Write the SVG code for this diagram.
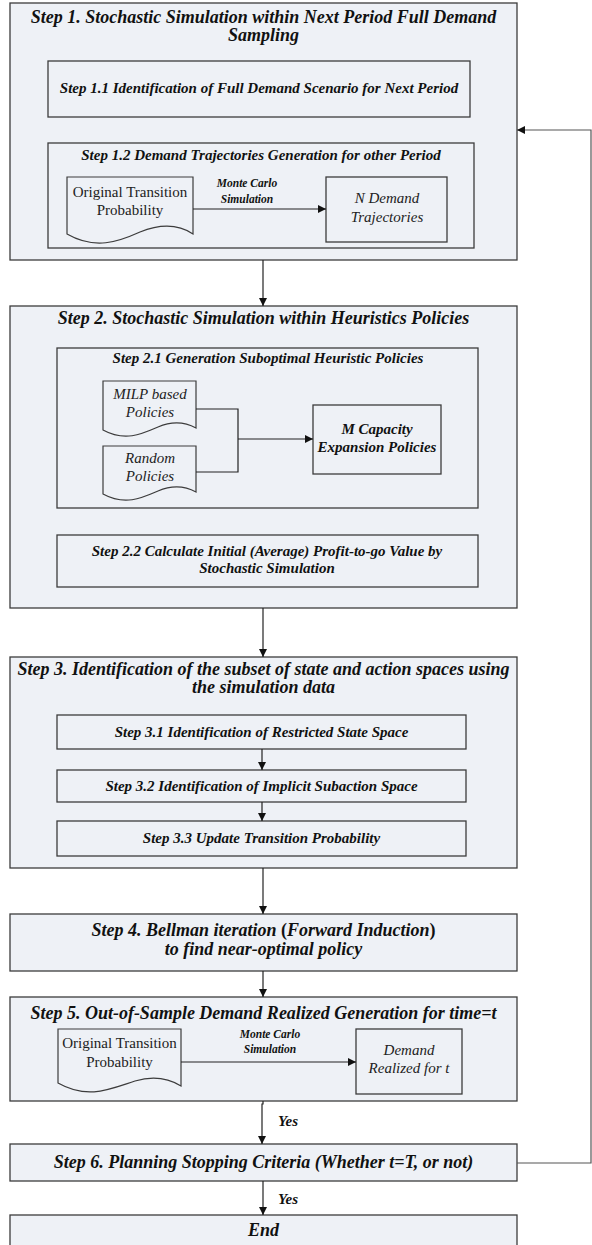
<svg xmlns="http://www.w3.org/2000/svg" width="592" height="1245" viewBox="0 0 592 1245">
  <defs>
    <marker id="arrow" viewBox="0 0 10 10" refX="10" refY="5" markerWidth="8" markerHeight="8" markerUnits="userSpaceOnUse" orient="auto">
      <path d="M0,0 L10,5 L0,10 Z" fill="#111"/>
    </marker>
    <style>
      text { font-family: 'Liberation Serif', 'DejaVu Serif', serif; fill: #111; text-anchor: middle; }
      .box { fill: #eef1f6; stroke: #3c3c3c; stroke-width: 1.3; }
      .doc { fill: #eef1f6; stroke: #3c3c3c; stroke-width: 1.2; }
      .t16 { font-size: 18px; font-weight: bold; font-style: italic; }
      .t13 { font-size: 15px; font-weight: bold; font-style: italic; }
      .t14r { font-size: 15px; fill: #222; }
      .t14i { font-size: 15px; font-style: italic; fill: #222; }
      .t14b { font-size: 15px; font-weight: bold; font-style: italic; }
      .t10 { font-size: 11.5px; font-weight: bold; font-style: italic; }
      .up { font-style: normal; }
      .line { fill: none; stroke: #222; stroke-width: 1.2; }
      .loop { fill: none; stroke: #555; stroke-width: 1.2; }
    </style>
  </defs>

  <rect width="592" height="1245" fill="#ffffff"/>

  <!-- Step 1 -->
  <g id="step1">
    <rect class="box" x="10" y="3" width="507" height="257"/>
    <text class="t16" x="263.5" y="23">Step 1.  Stochastic Simulation within Next Period Full Demand</text>
    <text class="t16" x="263.5" y="41">Sampling</text>
  </g>
  <g id="step1-1">
    <rect class="box" x="48" y="61" width="422" height="56"/>
    <text class="t13" x="259" y="93">Step 1.1 Identification of Full Demand Scenario for Next Period</text>
  </g>
  <g id="step1-2">
    <rect class="box" x="48" y="143" width="426" height="105"/>
    <text class="t13" x="261" y="160">Step 1.2 Demand Trajectories Generation for other Period</text>
  </g>
  <g id="doc1">
    <path class="doc" d="M67,177 H193 V234 C178,224 160,224 140,232 C118,242 95,250 67,234 Z"/>
    <text class="t14r" x="130" y="197">Original Transition</text>
    <text class="t14r" x="130" y="215">Probability</text>
  </g>
  <g id="trajectories">
    <rect class="box" x="326" y="177" width="121" height="65"/>
    <text class="t14i" x="387" y="203">N Demand</text>
    <text class="t14i" x="387" y="222">Trajectories</text>
  </g>

  <!-- Step 2 -->
  <g id="step2">
    <rect class="box" x="10" y="306" width="507" height="302"/>
    <text class="t16" x="263.5" y="324">Step 2.  Stochastic Simulation within Heuristics Policies</text>
  </g>
  <g id="step2-1">
    <rect class="box" x="57" y="348" width="421" height="160"/>
    <text class="t13" x="268" y="363">Step 2.1 Generation Suboptimal Heuristic Policies</text>
  </g>
  <g id="milp">
    <path class="doc" d="M103,381 H196 V428 C185,422 172,421 158,427 C142,434 125,442 103,430 Z"/>
    <text class="t14i" x="150" y="399">MILP based</text>
    <text class="t14i" x="150" y="417">Policies</text>
  </g>
  <g id="random">
    <path class="doc" d="M103,446 H196 V492 C185,486 172,485 158,491 C142,498 125,506 103,494 Z"/>
    <text class="t14i" x="150" y="463">Random</text>
    <text class="t14i" x="150" y="481">Policies</text>
  </g>
  <g id="capacity">
    <rect class="box" x="313" y="405" width="128" height="69"/>
    <text class="t14b" x="377" y="434">M Capacity</text>
    <text class="t14b" x="377" y="452">Expansion Policies</text>
  </g>
  <g id="step2-2">
    <rect class="box" x="57" y="535" width="421" height="52"/>
    <text class="t13" x="267" y="556">Step 2.2 Calculate Initial (Average) Profit-to-go Value by</text>
    <text class="t13" x="267" y="573">Stochastic Simulation</text>
  </g>

  <!-- Step 3 -->
  <g id="step3">
    <rect class="box" x="10" y="657" width="507" height="211"/>
    <text class="t16" x="263.5" y="675">Step 3.  Identification of the subset of state and action spaces using</text>
    <text class="t16" x="263.5" y="693">the simulation data</text>
  </g>
  <g id="step3-1">
    <rect class="box" x="57" y="715" width="409" height="34"/>
    <text class="t13" x="261.5" y="737">Step 3.1 Identification of Restricted State Space</text>
  </g>
  <g id="step3-2">
    <rect class="box" x="57" y="770" width="409" height="32"/>
    <text class="t13" x="261.5" y="791">Step 3.2 Identification of Implicit Subaction Space</text>
  </g>
  <g id="step3-3">
    <rect class="box" x="57" y="821" width="409" height="35"/>
    <text class="t13" x="261.5" y="843">Step 3.3 Update Transition Probability</text>
  </g>

  <!-- Step 4 -->
  <g id="step4">
    <rect class="box" x="10" y="914" width="507" height="57"/>
    <text class="t16" x="263.5" y="936">Step 4. Bellman iteration <tspan class="up">(</tspan>Forward Induction<tspan class="up">)</tspan></text>
    <text class="t16" x="263.5" y="955">to find near-optimal policy</text>
  </g>

  <!-- Step 5 -->
  <g id="step5">
    <rect class="box" x="10" y="997" width="507" height="104"/>
    <text class="t16" x="263.5" y="1019">Step 5. Out-of-Sample Demand Realized Generation for time=t</text>
  </g>
  <g id="doc5">
    <path class="doc" d="M58,1029 H181 V1086 C168,1078 152,1076 135,1081 C110,1089 88,1100 58,1083 Z"/>
    <text class="t14r" x="119.5" y="1048">Original Transition</text>
    <text class="t14r" x="119.5" y="1067">Probability</text>
  </g>
  <g id="realized">
    <rect class="box" x="356" y="1029" width="106" height="65"/>
    <text class="t14i" x="409" y="1055">Demand</text>
    <text class="t14i" x="409" y="1073">Realized for t</text>
  </g>

  <!-- Step 6 -->
  <g id="step6">
    <rect class="box" x="10" y="1144" width="507" height="37"/>
    <text class="t16" x="263.5" y="1168">Step 6. Planning Stopping Criteria (Whether t=T, or not)</text>
  </g>

  <!-- End -->
  <g id="end">
    <rect class="box" x="10" y="1215" width="507" height="40"/>
    <text class="t16" x="263.5" y="1236">End</text>
  </g>

  <!-- Connectors -->
  <g id="connectors">
    <line class="line" x1="263" y1="260" x2="263" y2="306" marker-end="url(#arrow)"/>
    <line class="line" x1="263" y1="608" x2="263" y2="657" marker-end="url(#arrow)"/>
    <line class="line" x1="262" y1="749" x2="262" y2="770" marker-end="url(#arrow)"/>
    <line class="line" x1="262" y1="802" x2="262" y2="821" marker-end="url(#arrow)"/>
    <line class="line" x1="263" y1="868" x2="263" y2="914" marker-end="url(#arrow)"/>
    <line class="line" x1="263" y1="971" x2="263" y2="997" marker-end="url(#arrow)"/>
    <path class="line" d="M263,1101 V1104 H262 V1144" marker-end="url(#arrow)"/>
    <line class="line" x1="263" y1="1181" x2="263" y2="1215" marker-end="url(#arrow)"/>

    <!-- Monte Carlo links -->
    <line class="line" x1="193" y1="209" x2="326" y2="209" marker-end="url(#arrow)"/>
    <text class="t10" x="247" y="187">Monte Carlo</text>
    <text class="t10" x="247" y="203">Simulation</text>
    <line class="line" x1="181" y1="1062" x2="356" y2="1062" marker-end="url(#arrow)"/>
    <text class="t10" x="270" y="1038">Monte Carlo</text>
    <text class="t10" x="270" y="1053">Simulation</text>

    <!-- Policy merge -->
    <path class="line" d="M196,409 H238 V472 H196"/>
    <line class="line" x1="238" y1="439" x2="313" y2="439" marker-end="url(#arrow)"/>

    <!-- Yes labels -->
    <text class="t13" x="288" y="1126">Yes</text>
    <text class="t13" x="288" y="1204">Yes</text>

    <!-- Loop back from Step 6 to Step 1 -->
    <path class="loop" d="M517,1163 H591 V130 H517" marker-end="url(#arrow)"/>
  </g>
</svg>
